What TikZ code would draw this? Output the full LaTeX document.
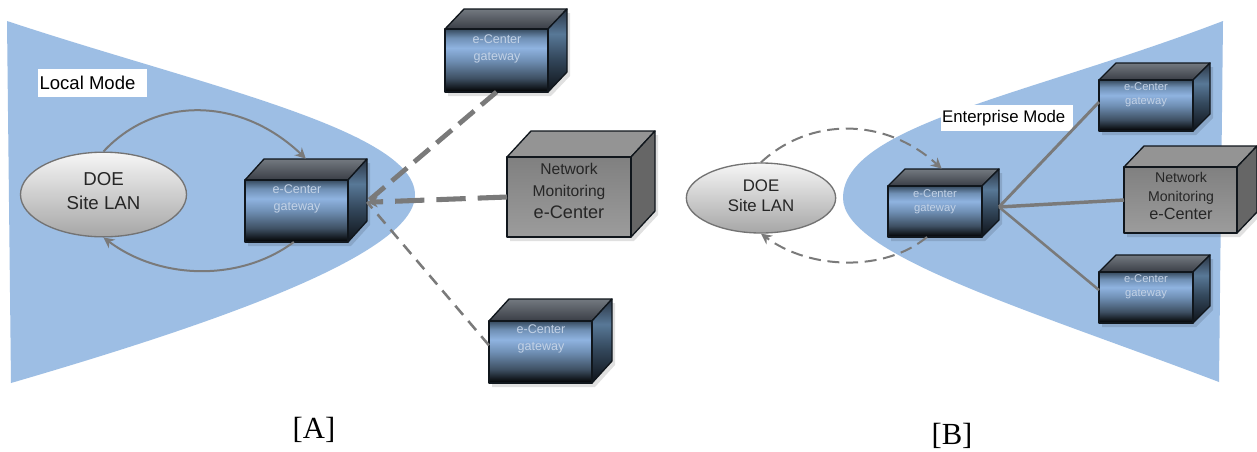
\documentclass[tikz,border=0pt]{standalone}
\usepackage{fontspec}
\setmainfont{Liberation Sans}
\newfontfamily\serifcap{Liberation Serif}
\usetikzlibrary{fit,shapes.geometric,arrows.meta,calc}
\definecolor{zone}{HTML}{9DBEE4}
\definecolor{conn}{HTML}{7A7A7A}
\definecolor{gwtxt}{HTML}{C3D2E6}
\definecolor{edge}{HTML}{10161C}
\definecolor{fa}{HTML}{3E5063}
\definecolor{fb}{HTML}{6F8FB4}
\definecolor{fc}{HTML}{8FB3E0}
\definecolor{fd}{HTML}{364A5E}
\definecolor{sa}{HTML}{0E1218}
\definecolor{sb}{HTML}{33475B}
\definecolor{sc}{HTML}{587897}
\definecolor{sd}{HTML}{2A3442}
\definecolor{ta}{HTML}{3A3E46}
\definecolor{tb}{HTML}{737980}
\definecolor{na}{HTML}{9C9C9C}
\definecolor{nb}{HTML}{808080}
\definecolor{la}{HTML}{A6A6A6}
\definecolor{lb}{HTML}{F6F6F6}
\pgfdeclareverticalshading{gwfront}{100bp}{color(0bp)=(black); color(25bp)=(black); color(36bp)=(fa); color(50bp)=(fb); color(60bp)=(fc); color(68bp)=(fb); color(75bp)=(fd); color(100bp)=(fd)}
\pgfdeclareverticalshading{gwside}{100bp}{color(0bp)=(sa); color(25bp)=(sa); color(45bp)=(sb); color(60bp)=(sc); color(75bp)=(sd); color(100bp)=(sd)}
\pgfdeclareverticalshading{gwtop}{100bp}{color(0bp)=(ta); color(25bp)=(ta); color(75bp)=(tb); color(100bp)=(tb)}
\pgfdeclareverticalshading{nmfront}{100bp}{color(0bp)=(na); color(25bp)=(na); color(75bp)=(nb); color(100bp)=(nb)}
\pgfdeclareverticalshading{lanfill}{100bp}{color(0bp)=(la); color(25bp)=(la); color(75bp)=(lb); color(100bp)=(lb)}
\tikzset{
  x=0.75pt,y=-0.75pt,
  boxedge/.style={draw=edge,line width=1pt,line join=round},
  frontnode/.style={inner sep=0pt,outer sep=0pt},
  gwlabel/.style={text=gwtxt,align=center,inner sep=0pt},
  gwlarge/.style={gwlabel,font=\fontsize{9.4pt}{13.2pt}\selectfont},
  gwsmall/.style={gwlabel,font=\fontsize{8.4pt}{10.8pt}\selectfont},
  nmlabel/.style={text=black!85,align=center,inner sep=0pt},
  lan/.style={ellipse,draw=black!55,line width=1pt,shading=lanfill,inner sep=0pt},
  lantext/.style={align=center,inner sep=0pt,text=black!85},
  modelabel/.style={fill=white,inner sep=0pt,text=black},
  zonefill/.style={fill=zone,draw=none},
  link/.style={draw=conn,line width=1.5pt},
  headed/.style={-{Stealth[length=8pt,width=8pt]}},
  gw/.style={shading=gwtop},
  gwside/.style={shading=gwside},
  gwfront/.style={shading=gwfront},
  nm/.style={fill=black!42},
  nmside/.style={fill=black!60},
  nmfront/.style={shading=nmfront},
}
% name, x1,y1,x2,y2, back x, back y, style prefix
\newcommand\solidbox[8]{%
  \fill[black,opacity=.12] (#2+3,#5) -- (#2+3,#5+4) -- (#4+3,#5+4) -- (#6+3,#5+#7-#3+4) -- (#6+3,#7+4) -- (#6,#7+4) -- (#4,#5) -- cycle;
  \path[boxedge,#8] (#2,#3) -- (#2+#6-#4,#7) -- (#6,#7) -- (#4,#3) -- cycle;
  \path[boxedge,#8side] (#4,#3) -- (#6,#7) -- (#6,#5+#7-#3) -- (#4,#5) -- cycle;
  \path[boxedge,#8front] (#2,#3) rectangle (#4,#5);
  \node[frontnode,fit={(#2,#3)(#4,#5)}] (#1) {};
}
\begin{document}
\begin{tikzpicture}
\useasboundingbox (0,0) rectangle (1257,451);
\fill[white] (0,0) rectangle (1257,451);
% zones
\path[zonefill] (7,21) .. controls (200,85) and (415,130) .. (415,195)
  .. controls (415,255) and (210,325) .. (11,383) -- cycle;
\path[zonefill] (1223,21) .. controls (1030,95) and (843,125) .. (843,198)
  .. controls (843,255) and (1030,310) .. (1219,382) -- cycle;
% mode labels
\node[modelabel,minimum width=82pt,minimum height=21pt,font=\fontsize{13.9pt}{16pt}\selectfont] (modeA) at (92.5,83) {Local Mode\hspace*{7.5pt}};
\node[modelabel,minimum width=99pt,minimum height=19.5pt,font=\fontsize{12.6pt}{15pt}\selectfont] (modeB) at (1007,118) {Enterprise Mode\hspace*{5pt}};
% boxes panel A
\solidbox{gwA}{245}{180}{348}{242}{367}{159}{gw}
\solidbox{gwAt}{445}{29}{548}{92}{567}{9}{gw}
\solidbox{gwAb}{489}{321}{592}{383}{612}{299}{gw}
\solidbox{nmA}{507}{157}{631}{237}{655}{131}{nm}
% boxes panel B
\solidbox{gwB}{888}{186}{982}{237}{999}{169}{gw}
\solidbox{gwBt}{1099}{80}{1193}{131}{1210}{63}{gw}
\solidbox{gwBb}{1099}{272}{1193}{323}{1210}{255}{gw}
\solidbox{nmB}{1124}{167}{1237}{233}{1257}{146}{nm}
\coordinate (hubA) at ([xshift=14.25pt,yshift=6.75pt]gwA.east);
\coordinate (hubB) at ([xshift=12.75pt,yshift=3.4pt]gwB.east);
% box texts
\node[gwlarge] (tA) at (297,199) {e-Center\\gateway};
\node[gwlarge] (tAt) at (497,49) {e-Center\\gateway};
\node[gwlarge] (tAb) at (541,339) {e-Center\\gateway};
\node[gwsmall] (tB) at (935,202) {e-Center\\gateway};
\node[gwsmall] (tBt) at (1146,95) {e-Center\\gateway};
\node[gwsmall] (tBb) at (1146,287) {e-Center\\gateway};
\node[nmlabel,font=\fontsize{11.7pt}{16.5pt}\selectfont] (tnA) at (569,191) {Network\\Monitoring\\\fontsize{13.6pt}{16.5pt}\selectfont e-Center};
\node[nmlabel,font=\fontsize{10.6pt}{14pt}\selectfont] (tnB) at (1181,196) {Network\\Monitoring\\\fontsize{12.2pt}{14pt}\selectfont e-Center};
% LAN ellipses
\node[lan,minimum width=124.5pt,minimum height=63.5pt] (lanA) at (103.5,194.5) {};
\node[lan,minimum width=112pt,minimum height=52.5pt] (lanB) at (761,198) {};
\node[lantext,font=\fontsize{14pt}{18pt}\selectfont] (tlanA) at (103.5,191) {DOE\\Site LAN};
\node[lantext,font=\fontsize{12.6pt}{15pt}\selectfont] (tlanB) at (761,196) {DOE\\Site LAN};
% connectors panel A
\draw[link,headed] (lanA.90) .. controls (155,96) and (240,96) .. ([xshift=7pt,yshift=16pt]gwA.north);
\draw[link,headed] ([xshift=-2pt]gwA.south) .. controls (240,282) and (160,280) .. (lanA.270);
\draw[link,line width=3.6pt,dash pattern=on 15pt off 7pt] (gwAt.south) -- (hubA);
\draw[link,line width=3.8pt,dash pattern=on 22pt off 9pt] (nmA.west) -- ([xshift=6pt]hubA);
\draw[link,headed] ([xshift=12pt]hubA) -- (hubA);
\draw[link,line width=1.9pt,dash pattern=on 9pt off 6pt] ([yshift=5pt]gwAb.west) -- (hubA);
% connectors panel B
\draw[link,headed,dash pattern=on 9pt off 5pt] (lanB.90) .. controls (810,117) and (885,117) .. ([xshift=5pt,yshift=13pt]gwB.north);
\draw[link,headed,dash pattern=on 9pt off 5pt] ([xshift=-6pt]gwB.south) .. controls (885,272) and (810,270) .. (lanB.270);
\draw[conn,line width=2.2pt] (hubB) -- ([yshift=2.6pt]gwBt.west);
\draw[conn,line width=2.6pt] (hubB) -- (nmB.west);
\draw[conn,line width=1.9pt] (hubB) -- ([yshift=5.6pt]gwBb.west);
% captions
\node[inner sep=0pt,font=\serifcap\fontsize{23pt}{25pt}\selectfont] (capA) at (314,430) {[A]};
\node[inner sep=0pt,font=\serifcap\fontsize{23pt}{25pt}\selectfont] (capB) at (952,436) {[B]};
\end{tikzpicture}
\end{document}
